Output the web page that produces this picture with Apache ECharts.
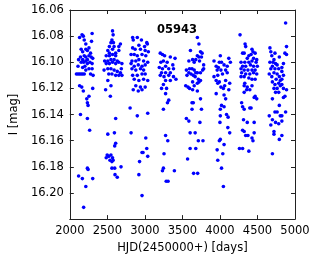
<!DOCTYPE html>
<html><head><meta charset="utf-8">
<script src="https://cdn.jsdelivr.net/npm/echarts@6/dist/echarts.min.js"></script>
<style>html,body{margin:0;padding:0;background:#fff}#c{width:316px;height:259px}</style>
</head><body><div id="c"></div>
<script>
const title = "05943";
const xLabel = "HJD(2450000+) [days]";
const yLabel = "I [mag]";
const xTicks = [2000, 2500, 3000, 3500, 4000, 4500, 5000];
const yTicks = [16.06, 16.08, 16.10, 16.12, 16.14, 16.16, 16.18, 16.20];

const season1 = [[2130,16.081],[2163,16.079],[2180,16.080],[2192,16.083],[2297,16.078],[2289,16.084],[2213,16.086],[2151,16.090],[2171,16.092],[2213,16.090],[2234,16.091],[2255,16.089],[2276,16.093],[2192,16.095],[2142,16.096],[2117,16.098],[2171,16.098],[2213,16.096],[2234,16.098],[2255,16.095],[2284,16.096],[2305,16.097],[2151,16.100],[2184,16.100],[2213,16.099],[2234,16.101],[2268,16.100],[2297,16.101],[2109,16.103],[2171,16.104],[2201,16.103],[2255,16.105],[2297,16.105],[2088,16.109],[2109,16.109],[2130,16.109],[2151,16.109],[2171,16.109],[2192,16.109],[2276,16.109],[2310,16.110],[2213,16.106],[2130,16.118],[2159,16.119],[2180,16.122],[2305,16.120],[2255,16.126],[2226,16.128],[2243,16.133],[2234,16.131],[2142,16.140],[2234,16.143],[2264,16.152],[2243,16.182],[2234,16.181],[2117,16.187],[2167,16.189],[2305,16.189],[2213,16.195],[2184,16.211]];
const season2 = [[2569,16.076],[2577,16.079],[2561,16.083],[2548,16.085],[2581,16.085],[2527,16.088],[2590,16.088],[2674,16.086],[2653,16.088],[2569,16.090],[2506,16.091],[2527,16.093],[2611,16.093],[2653,16.091],[2485,16.095],[2527,16.095],[2569,16.094],[2611,16.095],[2464,16.099],[2506,16.099],[2548,16.098],[2590,16.098],[2632,16.099],[2485,16.101],[2527,16.101],[2569,16.100],[2611,16.101],[2653,16.100],[2694,16.101],[2456,16.106],[2506,16.105],[2548,16.105],[2590,16.106],[2632,16.107],[2674,16.108],[2686,16.105],[2519,16.109],[2561,16.109],[2611,16.110],[2653,16.110],[2694,16.110],[2506,16.114],[2548,16.118],[2477,16.121],[2540,16.126],[2611,16.143],[2506,16.155],[2594,16.154],[2611,16.162],[2598,16.164],[2498,16.171],[2519,16.172],[2548,16.171],[2569,16.173],[2535,16.175],[2561,16.176],[2577,16.175],[2485,16.173],[2561,16.181],[2598,16.181],[2682,16.180],[2602,16.186],[2632,16.188]];
const season3 = [[2837,16.081],[2899,16.081],[2845,16.083],[2954,16.083],[3025,16.085],[3033,16.086],[2920,16.087],[2996,16.088],[2837,16.089],[2870,16.090],[2941,16.090],[3004,16.091],[3046,16.092],[2816,16.094],[2858,16.094],[2899,16.095],[2962,16.094],[3012,16.095],[2828,16.099],[2879,16.099],[2920,16.098],[2983,16.099],[3038,16.100],[2816,16.101],[2858,16.103],[2912,16.102],[2962,16.103],[3004,16.102],[2828,16.105],[2879,16.106],[2941,16.105],[2983,16.106],[2837,16.110],[2899,16.110],[2962,16.109],[3004,16.109],[2858,16.113],[2920,16.114],[2983,16.113],[3038,16.114],[2879,16.118],[2941,16.119],[3004,16.119],[2845,16.121],[2912,16.122],[2962,16.121],[2803,16.135],[3038,16.139],[2899,16.141],[2816,16.154],[3012,16.158],[3025,16.166],[2962,16.169],[2975,16.169],[3038,16.172],[2929,16.176],[2920,16.186],[2962,16.202]];
const season4 = [[3205,16.093],[3234,16.094],[3263,16.095],[3402,16.097],[3339,16.096],[3213,16.100],[3247,16.099],[3297,16.100],[3372,16.102],[3192,16.104],[3234,16.105],[3276,16.103],[3318,16.105],[3381,16.105],[3222,16.108],[3276,16.108],[3339,16.108],[3205,16.110],[3255,16.111],[3318,16.110],[3381,16.111],[3414,16.113],[3276,16.114],[3339,16.114],[3247,16.117],[3222,16.120],[3289,16.120],[3276,16.124],[3318,16.129],[3301,16.131],[3247,16.136],[3276,16.156],[3305,16.160],[3255,16.170],[3247,16.181],[3234,16.183],[3393,16.183],[3284,16.191],[3309,16.191]];
const season5 = [[3699,16.081],[3720,16.086],[3607,16.091],[3741,16.092],[3762,16.093],[3699,16.095],[3720,16.096],[3754,16.096],[3586,16.099],[3636,16.098],[3678,16.098],[3657,16.100],[3728,16.099],[3783,16.102],[3553,16.106],[3595,16.105],[3628,16.105],[3657,16.106],[3678,16.108],[3586,16.108],[3615,16.109],[3645,16.110],[3699,16.108],[3741,16.108],[3783,16.105],[3770,16.106],[3561,16.110],[3670,16.111],[3712,16.113],[3544,16.118],[3574,16.119],[3636,16.115],[3657,16.118],[3699,16.116],[3741,16.114],[3720,16.115],[3595,16.120],[3636,16.121],[3699,16.122],[3628,16.131],[3645,16.131],[3741,16.128],[3628,16.136],[3754,16.136],[3553,16.143],[3586,16.145],[3733,16.146],[3603,16.154],[3670,16.154],[3712,16.160],[3774,16.160],[3603,16.166],[3678,16.166],[3569,16.174],[3649,16.185],[3703,16.185]];
const season6 = [[3921,16.099],[3992,16.100],[4021,16.100],[4005,16.095],[4118,16.097],[4139,16.100],[3950,16.103],[3979,16.104],[4055,16.102],[4097,16.103],[3963,16.106],[4013,16.106],[4076,16.106],[3921,16.111],[3971,16.110],[4034,16.109],[4097,16.108],[3950,16.114],[3992,16.115],[4076,16.114],[4130,16.116],[3971,16.116],[4013,16.119],[4063,16.118],[3950,16.124],[4046,16.120],[4118,16.121],[4055,16.125],[4076,16.128],[4021,16.133],[4055,16.134],[4005,16.136],[4005,16.141],[4088,16.140],[4109,16.142],[4000,16.146],[4105,16.150],[4130,16.154],[4005,16.159],[3992,16.160],[4055,16.163],[3963,16.167],[4038,16.170],[3971,16.175],[4021,16.181],[4046,16.195]];
const season7 = [[4268,16.079],[4335,16.086],[4343,16.088],[4427,16.090],[4302,16.093],[4323,16.093],[4469,16.093],[4385,16.095],[4415,16.094],[4440,16.092],[4364,16.097],[4448,16.097],[4490,16.098],[4281,16.100],[4331,16.100],[4385,16.100],[4427,16.099],[4482,16.100],[4302,16.103],[4343,16.103],[4406,16.102],[4448,16.103],[4498,16.103],[4281,16.105],[4323,16.106],[4373,16.106],[4427,16.106],[4469,16.106],[4289,16.108],[4343,16.109],[4398,16.109],[4448,16.108],[4490,16.109],[4281,16.111],[4323,16.111],[4385,16.112],[4427,16.113],[4469,16.113],[4331,16.116],[4323,16.118],[4364,16.119],[4427,16.118],[4356,16.121],[4323,16.123],[4398,16.121],[4469,16.126],[4490,16.128],[4456,16.127],[4289,16.131],[4302,16.134],[4323,16.136],[4398,16.135],[4415,16.135],[4314,16.144],[4364,16.146],[4456,16.146],[4302,16.152],[4323,16.153],[4343,16.156],[4373,16.156],[4456,16.154],[4427,16.158],[4440,16.160],[4260,16.166],[4302,16.166],[4385,16.168]];
const season8 = [[4875,16.070],[4887,16.088],[4666,16.089],[4678,16.092],[4733,16.093],[4866,16.093],[4887,16.094],[4791,16.096],[4691,16.095],[4720,16.098],[4666,16.100],[4707,16.100],[4741,16.101],[4846,16.101],[4699,16.103],[4762,16.102],[4825,16.104],[4678,16.105],[4733,16.105],[4783,16.105],[4657,16.109],[4720,16.108],[4762,16.109],[4825,16.107],[4846,16.110],[4791,16.111],[4691,16.111],[4749,16.113],[4825,16.113],[4699,16.115],[4804,16.114],[4733,16.117],[4783,16.116],[4825,16.117],[4720,16.120],[4762,16.120],[4804,16.118],[4846,16.120],[4741,16.123],[4783,16.123],[4887,16.121],[4846,16.127],[4699,16.128],[4866,16.126],[4791,16.133],[4762,16.138],[4733,16.138],[4875,16.138],[4804,16.141],[4657,16.141],[4825,16.141],[4699,16.144],[4741,16.146],[4783,16.147],[4825,16.145],[4678,16.148],[4720,16.153],[4720,16.155],[4825,16.156],[4791,16.159],[4699,16.170]];

const seasons = [season1, season2, season3, season4, season5, season6, season7, season8];

const chart = echarts.init(document.getElementById('c'), null, {renderer: 'canvas'});
const FONT = 'DejaVu Sans';
const lineStyle = {color: '#222', width: 1};
const tickStyle = {show: true, inside: true, length: 4, lineStyle: {color: '#222', width: 1}};
const xBase = {type: 'value', min: xTicks[0], max: xTicks[xTicks.length - 1], interval: 500,
  axisLine: {show: true, onZero: false, lineStyle: lineStyle}, axisTick: tickStyle, splitLine: {show: false}};
const yBase = {type: 'value', min: 16.06, max: 16.22, interval: 0.02, inverse: true,
  axisLine: {show: true, onZero: false, lineStyle: lineStyle}, axisTick: tickStyle, splitLine: {show: false}};

chart.setOption({
  animation: false,
  backgroundColor: '#fff',
  title: {text: title, left: 172, top: 19, textAlign: 'center',
    textStyle: {fontFamily: FONT, fontSize: 11.5, fontWeight: 'bold', color: '#000'}},
  grid: {left: 56, top: 10, right: 21, bottom: 36, containLabel: false},
  xAxis: [
    Object.assign({}, xBase, {position: 'bottom', name: xLabel, nameLocation: 'middle', nameGap: 20,
      nameTextStyle: {fontFamily: FONT, fontSize: 11.5, color: '#000'},
      axisLabel: {fontFamily: FONT, fontSize: 11.5, color: '#000', margin: 6, showMinLabel: true, showMaxLabel: true,
        formatter: function (v) { return xTicks.indexOf(Math.round(v)) >= 0 ? String(Math.round(v)) : ''; }}}),
    Object.assign({}, xBase, {position: 'top', axisLabel: {show: false}})
  ],
  yAxis: [
    Object.assign({}, yBase, {position: 'left', name: yLabel, nameLocation: 'middle', nameGap: 41,
      nameTextStyle: {fontFamily: FONT, fontSize: 11.5, color: '#000'},
      axisLabel: {fontFamily: FONT, fontSize: 11.5, color: '#000', margin: 6,
        formatter: function (v) { return yTicks.some(t => Math.abs(t - v) < 1e-6) ? v.toFixed(2) : ''; }}}),
    Object.assign({}, yBase, {position: 'right', axisLabel: {show: false}})
  ],
  series: seasons.map(function (s) {
    return {type: 'scatter', xAxisIndex: 0, yAxisIndex: 0, data: s, symbol: 'circle', symbolSize: 3.6,
      itemStyle: {color: '#0000ff', opacity: 1}, silent: true};
  })
});
</script></body></html>
